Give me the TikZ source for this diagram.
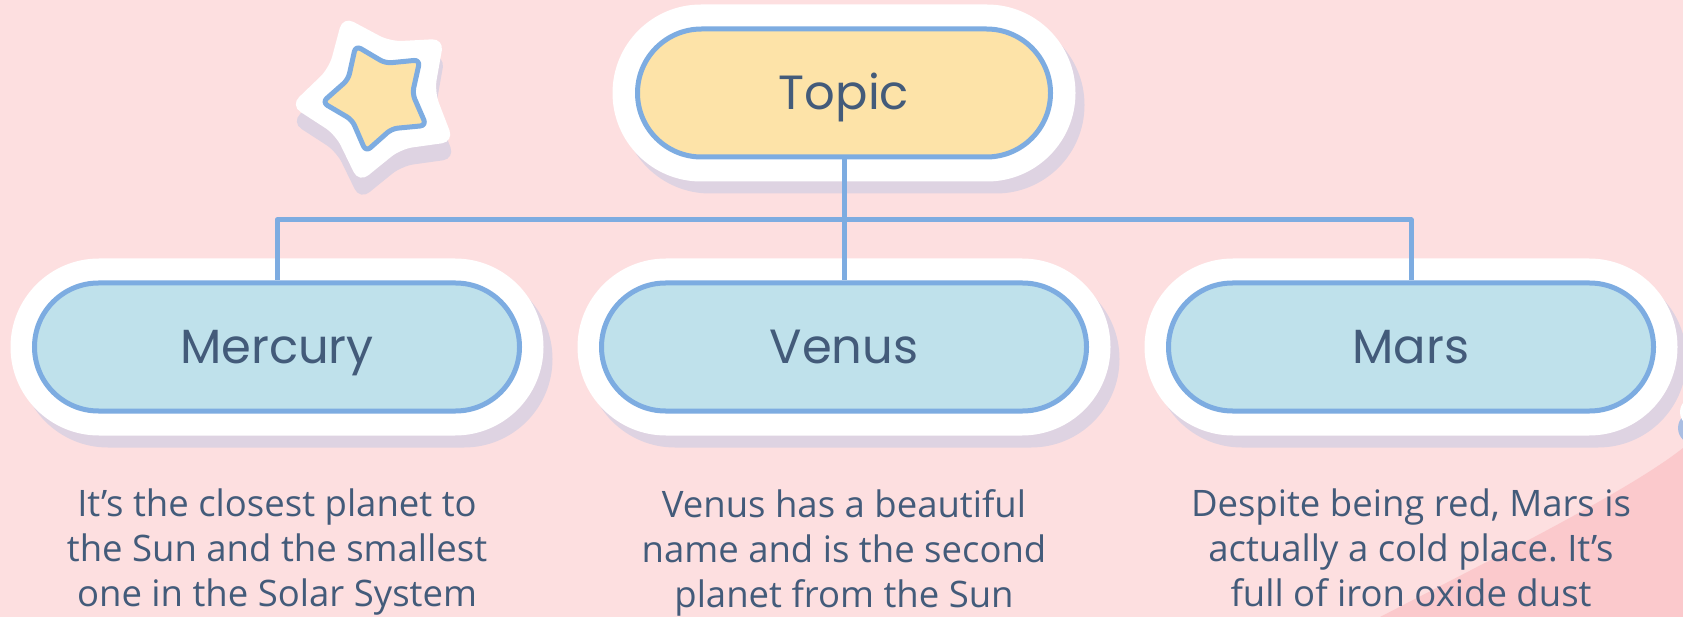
\documentclass[tikz,border=0pt]{standalone}
\usepackage{fontspec}
\setmainfont{Open Sans}
\newfontfamily\labelfont{Poppins}
\usetikzlibrary{shapes.geometric,calc}
\definecolor{bgpink}{RGB}{253,223,224}
\definecolor{darkpink}{RGB}{251,201,204}
\definecolor{shadowc}{RGB}{222,211,226}
\definecolor{bordc}{RGB}{125,172,225}
\definecolor{topicfill}{RGB}{253,227,168}
\definecolor{childfill}{RGB}{191,225,235}
\definecolor{textc}{RGB}{67,91,122}
\definecolor{blobblue}{RGB}{170,190,227}
\frenchspacing
\begin{document}
\begin{tikzpicture}[x=1pt,y=-1pt,
  pill/.style={draw=bordc, line width=5pt, rounded corners=64pt,
    minimum height=128pt, inner sep=0pt, text=textc,
    font=\labelfont\fontsize{48}{48}\selectfont, text height=33.5pt, text depth=0pt},
  topicpill/.style={pill, fill=topicfill, minimum width=413pt},
  childpill/.style={pill, fill=childfill, minimum width=485pt},
  halo/.style={fill=white, rounded corners=88.5pt},
  halosh/.style={fill=shadowc, rounded corners=88.5pt},
  conn/.style={draw=bordc, line width=5pt, line join=round},
  body/.style={text=textc, align=center, inner sep=0pt,
    font=\fontsize{36.5}{45}\selectfont},
  starbase/.style={star, star points=5, shape border rotate=23.5, inner sep=0pt}
]
\useasboundingbox (0,0) rectangle (1683,617);
\clip (0,0) rectangle (1683,617);
% background
\fill[bgpink] (0,0) rectangle (1683,617);
\fill[darkpink] (1683,448) .. controls (1630,490) and (1500,555) .. (1380,617) -- (1683,617) -- cycle;
% right-edge blobs
\fill[blobblue] (1694,428) circle[radius=16pt];
\fill[white] (1695,412) circle[radius=15pt];
% star
\node[starbase, star point ratio=1.55, minimum size=176pt, fill=shadowc, rounded corners=12pt] (starsh) at (379,114) {};
\node[starbase, star point ratio=1.55, minimum size=176pt, fill=white, rounded corners=12pt] (starhalo) at (378,97) {};
\node[starbase, star point ratio=1.62, minimum size=112pt, fill=topicfill, draw=bordc, line width=5pt, line join=round, rounded corners=6pt] (star) at (378,97) {};
% positions
\coordinate (pT) at (844,93);
\coordinate (pM) at (277,347);
\coordinate (pV) at (844,347);
\coordinate (pR) at (1411,347);
% shadows and halos
\fill[halosh] ($(pT)+(-231.5+9,-88.5+12)$) rectangle ++(463,177);
\fill[halo] ($(pT)+(-231.5,-88.5)$) rectangle ++(463,177);
\foreach \p in {pM,pV,pR}{
  \fill[halosh] ($(\p)+(-266.5+9,-88.5+12)$) rectangle ++(533,177);
  \fill[halo] ($(\p)+(-266.5,-88.5)$) rectangle ++(533,177);
}
% nodes
\node[topicpill] (topic) at (pT) {Topic};
\node[childpill] (mercury) at (pM) {Mercury};
\node[childpill] (venus) at (pV) {Venus};
\node[childpill] (mars) at (pR) {Mars};
% connectors
\coordinate (mid) at ($(topic.south)!0.5!(venus.north)$);
\draw[conn] (topic.south) |- (mid) -| (mercury.north);
\draw[conn] (topic.south) |- (mid) -| (mars.north);
\draw[conn] (topic.south) -- (venus.north);
% descriptions
\node[body, anchor=north] (dm) at (277,489) {It’s the closest planet to\\the Sun and the smallest\\one in the Solar System};
\node[body, anchor=north] (dv) at (844,489) {Venus has a beautiful\\name and is the second\\planet from the Sun};
\node[body, anchor=north] (dr) at (1411,489) {Despite being red, Mars is\\actually a cold place. It’s\\full of iron oxide dust};
\end{tikzpicture}
\end{document}
